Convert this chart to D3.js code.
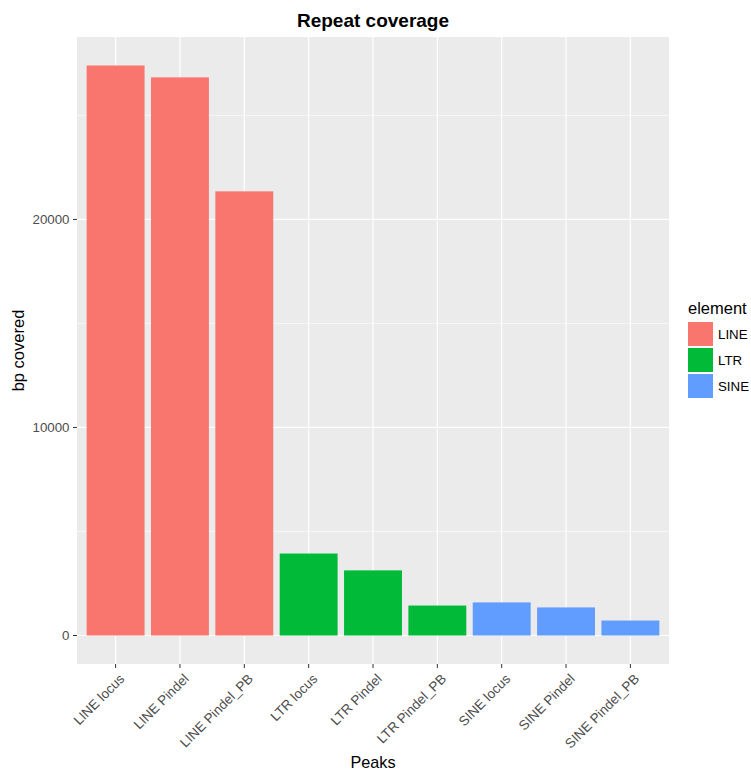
<!DOCTYPE html>
<html>
<head>
<meta charset="utf-8">
<script src="https://cdn.jsdelivr.net/npm/d3@7"></script>
<style>
  body { margin: 0; background: #fff; }
  text { font-family: "Liberation Sans", Arial, Helvetica, sans-serif; }
</style>
</head>
<body>
<svg id="chart" width="751" height="771"></svg>
<script>
// Coverage in bp per peak set, grouped by repeat element class
const peaks = ["LINE locus", "LINE Pindel", "LINE Pindel_PB",
               "LTR locus", "LTR Pindel", "LTR Pindel_PB",
               "SINE locus", "SINE Pindel", "SINE Pindel_PB"];
const elements = ["LINE", "LTR", "SINE"];
const peakElement = ["LINE", "LINE", "LINE", "LTR", "LTR", "LTR", "SINE", "SINE", "SINE"];
const bpCovered = [27400, 26830, 21350, 3940, 3130, 1440, 1590, 1350, 720];
const elementColors = ["#F8766D", "#00BA38", "#619CFF"];
const yTicks = [0, 10000, 20000];
const yMinorTicks = [5000, 15000, 25000];

const svg = d3.select("#chart");
const panel = { left: 77, right: 669, top: 37, bottom: 664 };

// discrete x: bars 0.9 of a step wide, 0.6 step of space at each end
const x = d3.scalePoint().domain(peaks)
  .range([panel.left, panel.right]).padding(0.6);
const barW = x.step() * 0.9;

const maxV = d3.max(bpCovered);
const y = d3.scaleLinear().domain([-0.05 * maxV, 1.05 * maxV]).range([panel.bottom, panel.top]);
const color = d3.scaleOrdinal().domain(elements).range(elementColors);

// panel background
svg.append("rect")
  .attr("x", panel.left).attr("y", panel.top)
  .attr("width", panel.right - panel.left).attr("height", panel.bottom - panel.top)
  .attr("fill", "#EBEBEB");

// minor grid
svg.append("g").selectAll("line").data(yMinorTicks).join("line")
  .attr("x1", panel.left).attr("x2", panel.right)
  .attr("y1", d => y(d)).attr("y2", d => y(d))
  .attr("stroke", "#fff").attr("stroke-width", 0.6);

// major grid
svg.append("g").selectAll("line").data(yTicks).join("line")
  .attr("x1", panel.left).attr("x2", panel.right)
  .attr("y1", d => y(d)).attr("y2", d => y(d))
  .attr("stroke", "#fff").attr("stroke-width", 1.2);
svg.append("g").selectAll("line").data(peaks).join("line")
  .attr("x1", d => x(d)).attr("x2", d => x(d))
  .attr("y1", panel.top).attr("y2", panel.bottom)
  .attr("stroke", "#fff").attr("stroke-width", 1.2);

// bars
svg.append("g").selectAll("rect").data(peaks).join("rect")
  .attr("x", d => x(d) - barW / 2)
  .attr("width", barW)
  .attr("y", (d, i) => y(bpCovered[i]))
  .attr("height", (d, i) => y(0) - y(bpCovered[i]))
  .attr("fill", (d, i) => color(peakElement[i]));

// y axis
const yAxis = svg.append("g");
yAxis.selectAll("line").data(yTicks).join("line")
  .attr("x1", panel.left - 4).attr("x2", panel.left)
  .attr("y1", d => y(d)).attr("y2", d => y(d))
  .attr("stroke", "#333").attr("stroke-width", 1);
yAxis.selectAll("text").data(yTicks).join("text")
  .attr("x", panel.left - 7.5).attr("y", d => y(d))
  .attr("dy", "0.35em").attr("text-anchor", "end")
  .attr("font-size", 13.3).attr("fill", "#4D4D4D")
  .text(d => d3.format("d")(d));

// x axis
const xAxis = svg.append("g");
xAxis.selectAll("line").data(peaks).join("line")
  .attr("x1", d => x(d)).attr("x2", d => x(d))
  .attr("y1", panel.bottom).attr("y2", panel.bottom + 4)
  .attr("stroke", "#333").attr("stroke-width", 1);
xAxis.selectAll("text").data(peaks).join("text")
  .attr("transform", d => `translate(${x(d) + 3},${panel.bottom + 9}) rotate(-45)`)
  .attr("text-anchor", "end").attr("dy", "0.7em")
  .attr("font-size", 13.5).attr("fill", "#4D4D4D")
  .text(d => d);

// titles
svg.append("text")
  .attr("x", (panel.left + panel.right) / 2).attr("y", 27)
  .attr("text-anchor", "middle").attr("font-size", 19).attr("font-weight", "bold")
  .attr("fill", "#000").text("Repeat coverage");
svg.append("text")
  .attr("x", (panel.left + panel.right) / 2).attr("y", 768)
  .attr("text-anchor", "middle").attr("font-size", 16.2).attr("fill", "#000")
  .text("Peaks");
svg.append("text")
  .attr("transform", `translate(24,${(panel.top + panel.bottom) / 2}) rotate(-90)`)
  .attr("text-anchor", "middle").attr("font-size", 16.5).attr("fill", "#000")
  .text("bp covered");

// legend
const legend = svg.append("g").attr("transform", "translate(688,0)");
legend.append("text").attr("x", 0).attr("y", 314)
  .attr("font-size", 16.5).attr("fill", "#000").text("element");
const items = legend.selectAll("g.item").data(elements).join("g")
  .attr("transform", (d, i) => `translate(0,${322 + i * 26})`);
items.append("rect").attr("width", 25).attr("height", 24)
  .attr("fill", d => color(d));
items.append("text").attr("x", 30).attr("y", 12).attr("dy", "0.35em")
  .attr("font-size", 13.3).attr("fill", "#000").text(d => d);
</script>
</body>
</html>
